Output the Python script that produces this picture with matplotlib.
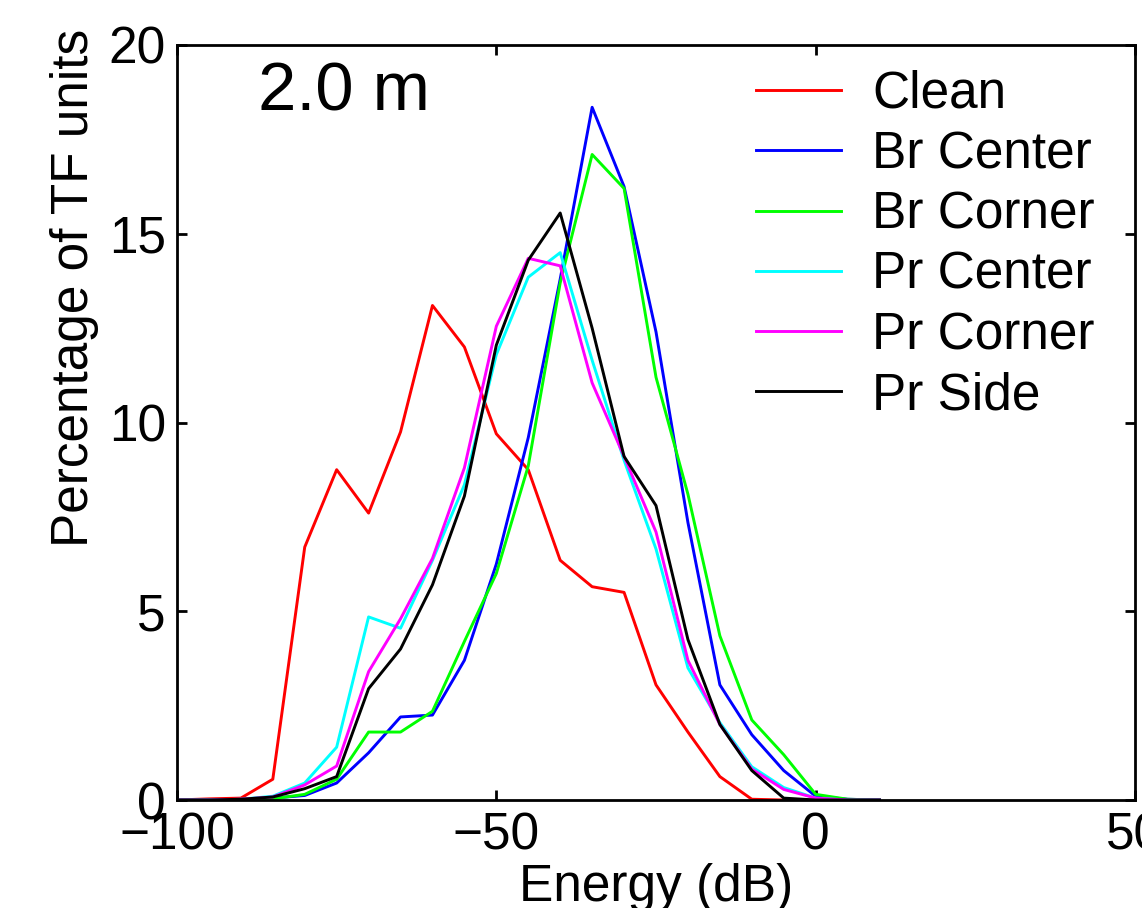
import matplotlib.pyplot as plt
import numpy as np

plt.rcParams['font.family'] = ['Liberation Sans', 'DejaVu Sans']

# energy bins (dB)
energy = [-100, -95, -90, -85, -80, -75, -70, -65, -60, -55, -50, -45,
          -40, -35, -30, -25, -20, -15, -10, -5, 0, 5, 10]

clean = [0.0, 0.03, 0.05, 0.55, 6.7, 8.75, 7.6, 9.75, 13.1, 12.0, 9.7, 8.75,
         6.35, 5.65, 5.5, 3.05, 1.8, 0.62, 0.02, 0.0, 0.0, 0.0, 0.0]
br_center = [0.0, 0.0, 0.0, 0.05, 0.12, 0.45, 1.25, 2.2, 2.25, 3.7, 6.25, 9.6,
             13.8, 18.35, 16.25, 12.4, 7.35, 3.05, 1.73, 0.78, 0.1, 0.02, 0.0]
br_corner = [0.0, 0.0, 0.0, 0.03, 0.15, 0.55, 1.8, 1.8, 2.35, 4.2, 6.0, 8.85,
             13.7, 17.1, 16.2, 11.2, 8.1, 4.35, 2.12, 1.2, 0.15, 0.02, 0.0]
pr_center = [0.0, 0.0, 0.02, 0.1, 0.45, 1.4, 4.85, 4.55, 6.35, 8.35, 11.8, 13.85,
             14.5, 11.65, 9.0, 6.65, 3.5, 2.05, 0.88, 0.33, 0.05, 0.0, 0.0]
pr_corner = [0.0, 0.0, 0.02, 0.08, 0.4, 0.9, 3.4, 4.8, 6.4, 8.8, 12.55, 14.35,
             14.15, 11.05, 9.1, 7.1, 3.7, 2.0, 0.82, 0.28, 0.05, 0.0, 0.0]
pr_side = [0.0, 0.0, 0.02, 0.08, 0.3, 0.62, 2.95, 4.0, 5.7, 8.05, 12.05, 14.3,
           15.55, 12.5, 9.1, 7.8, 4.25, 2.0, 0.78, 0.05, 0.0, 0.0, 0.0]

series = [
    ('Clean', clean, '#ff0000'),
    ('Br Center', br_center, '#0000ff'),
    ('Br Corner', br_corner, '#00ff00'),
    ('Pr Center', pr_center, '#00ffff'),
    ('Pr Corner', pr_corner, '#ff00ff'),
    ('Pr Side', pr_side, '#000000'),
]

fig = plt.figure(figsize=(11.42, 9.08), dpi=100)
ax = fig.add_axes([177 / 1142, 108 / 908, 958 / 1142, 755 / 908])

for name, vals, col in series:
    ax.plot(energy, vals, color=col, lw=2.1, label=name)

ax.set_xlim(-100, 50)
ax.set_ylim(0, 20)
ax.set_xticks([-100, -50, 0, 50])
ax.set_yticks([0, 5, 10, 15, 20])

for sp in ax.spines.values():
    sp.set_linewidth(2.0)
ax.tick_params(direction='in', length=7, width=2, top=True, right=True,
               labelsize=37, pad=8)

ax.text(0.085, 0.979, '2.0 m', transform=ax.transAxes, fontsize=49.5,
        ha='left', va='top')

ax.legend(loc='upper left', bbox_to_anchor=(0.604, 0.967), frameon=False,
          fontsize=37, handlelength=1.67, handletextpad=0.6,
          labelspacing=0.22, borderpad=0, borderaxespad=0)

fig.text(75 / 1142, 1 - 288 / 908, 'Percentage of TF units', rotation=90,
         ha='center', va='center', fontsize=37)
fig.text(656 / 1142, 1 - 901 / 908, 'Energy (dB)', ha='center',
         va='baseline', fontsize=37)

fig.savefig('out.png', dpi=100)
